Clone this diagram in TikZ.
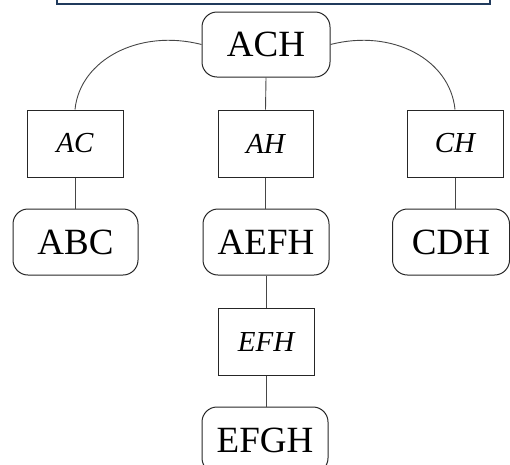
\documentclass[tikz,border=0pt]{standalone}
\usepackage{fontspec}
\setmainfont{Liberation Serif}
\definecolor{framecol}{RGB}{32,58,92}
\definecolor{edgecol}{RGB}{70,70,70}
\begin{document}
\begin{tikzpicture}[x=1pt,y=-1pt,
  clique/.style={draw=black!85,line width=1pt,rounded corners=15pt,inner sep=0pt,
    minimum width=126pt,minimum height=66pt,font=\fontsize{37}{40}\selectfont},
  sepset/.style={draw=black!85,line width=1pt,inner sep=0pt,
    minimum width=96pt,minimum height=67pt,font=\fontsize{29}{32}\selectfont\itshape},
  link/.style={draw=edgecol,line width=0.9pt}]
\clip (0,0) rectangle (510,464);
\useasboundingbox (0,0) rectangle (510,464);
% frame above the tree
\draw[framecol,line width=2pt] (57,-20) rectangle (490,4);
% cliques
\node[clique,minimum width=128pt,minimum height=65pt] (ach) at (266,44.5) {ACH};
\node[clique,minimum width=125pt] (abc) at (75.5,242) {ABC};
\node[clique] (aefh) at (266,242) {AEFH};
\node[clique,minimum width=117pt] (cdh) at (451,242) {CDH};
\node[clique] (efgh) at (265,440) {EFGH};
% separators
\node[sepset] (ac) at (75,143.5) {AC};
\node[sepset,minimum width=95pt] (ah) at (265.5,143.5) {AH};
\node[sepset] (ch) at (455,143.5) {CH};
\node[sepset] (efh) at (266,341.5) {EFH};
% connectors
\draw[link] (ach.west) .. controls +(-62,-16) and +(5,-50) .. (ac.north);
\draw[link] (ach.east) .. controls +(62,-16) and +(-5,-50) .. (ch.north);
\draw[link] (ach.south) -- (ah.north);
\draw[link] (ac.south) -- (abc.north -| ac.south);
\draw[link] (ah.south) -- (aefh.north -| ah.south);
\draw[link] (ch.south) -- (cdh.north -| ch.south);
\draw[link] (aefh.south) -- (efh.north);
\draw[link] (efh.south) -- (efgh.north -| efh.south);
\end{tikzpicture}
\end{document}
